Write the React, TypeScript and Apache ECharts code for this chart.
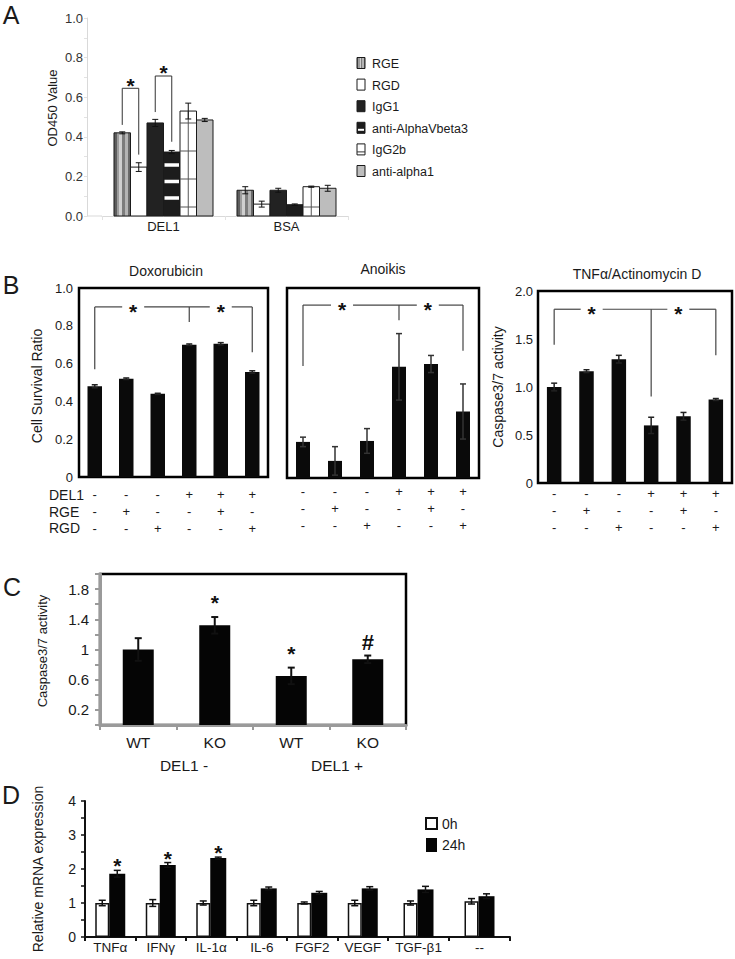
import React, { useEffect, useRef } from 'react';
import * as echarts from 'echarts';

const FONT = '"Liberation Sans", Arial, Helvetica, sans-serif';
const INK = '#1a1a1a';

// ---------- Panel A ----------
const aCategories = ['DEL1', 'BSA'];
const aGroups = ['RGE', 'RGD', 'IgG1', 'anti-AlphaVbeta3', 'IgG2b', 'anti-alpha1'];
const aDEL1 = [0.42, 0.247, 0.47, 0.323, 0.53, 0.485];
const aDEL1Err = [0.005, 0.022, 0.018, 0.008, 0.04, 0.008];
const aBSA = [0.13, 0.06, 0.13, 0.057, 0.148, 0.14];
const aBSAErr = [0.018, 0.015, 0.01, 0.004, 0.003, 0.015];

// ---------- Panel B ----------
const bTitles = ['Doxorubicin', 'Anoikis', 'TNFα/Actinomycin D'];
const bRowNames = ['DEL1', 'RGE', 'RGD'];
const bDEL1 = ['-', '-', '-', '+', '+', '+'];
const bRGE = ['-', '+', '-', '-', '+', '-'];
const bRGD = ['-', '-', '+', '-', '-', '+'];
const bConditions = bDEL1.map((d, i) => `${d}/${bRGE[i]}/${bRGD[i]}`);
const doxValues = [0.48, 0.52, 0.44, 0.70, 0.705, 0.556];
const doxErr = [0.008, 0.004, 0.003, 0.004, 0.006, 0.006];
const anoValues = [0.19, 0.09, 0.195, 0.585, 0.60, 0.35];
const anoErr = [0.025, 0.075, 0.065, 0.175, 0.045, 0.145];
const tnfValues = [1.0, 1.165, 1.29, 0.60, 0.695, 0.87];
const tnfErr = [0.04, 0.015, 0.04, 0.085, 0.04, 0.01];

// ---------- Panel C ----------
const cCategories = ['WT', 'KO', 'WT', 'KO'];
const cGroups = ['DEL1 -', 'DEL1 +'];
const cValues = [1.0, 1.32, 0.65, 0.87];
const cErr = [0.15, 0.11, 0.11, 0.05];
const cMarks = ['', '*', '*', '#'];

// ---------- Panel D ----------
const dCategories = ['TNFα', 'IFNγ', 'IL-1α', 'IL-6', 'FGF2', 'VEGF', 'TGF-β1', '--'];
const dSeriesNames = ['0h', '24h'];
const d0h = [1.0, 1.0, 1.0, 1.0, 1.0, 1.0, 1.0, 1.05];
const d0hErr = [0.08, 0.1, 0.06, 0.08, 0.03, 0.08, 0.06, 0.08];
const d24h = [1.86, 2.12, 2.32, 1.43, 1.3, 1.43, 1.4, 1.2];
const d24hErr = [0.1, 0.07, 0.03, 0.04, 0.04, 0.05, 0.09, 0.07];
const dMarks = ['*', '*', '*', '', '', '', '', ''];
const dSplit = 6;

// ---------- helpers ----------
const ln = (x1: number, y1: number, x2: number, y2: number, stroke: string, lineWidth: number) => ({
  type: 'line',
  shape: { x1, y1, x2, y2 },
  style: { stroke, lineWidth },
});
const starText = (x: number, yCenter: number, t = '*', size = 21, weight = 'bold') => ({
  type: 'text',
  x,
  y: t === '*' ? yCenter + 4.5 : yCenter,
  style: {
    text: t,
    fontSize: size,
    fontFamily: FONT,
    fontWeight: weight,
    fill: '#111',
    align: 'center',
    verticalAlign: 'middle',
  },
});

function stripeStops(colors: string[]) {
  const stops: any[] = [];
  const n = colors.length;
  colors.forEach((c, i) => {
    stops.push({ offset: i / n, color: c });
    stops.push({ offset: (i + 1) / n, color: c });
  });
  return stops;
}

const aFills: any[] = [
  { type: 'linear', x: 0, y: 0, x2: 1, y2: 0, colorStops: stripeStops(['#5e5e5e', '#9c9c9c', '#cfcfcf', '#7c7c7c', '#b4b4b4', '#6a6a6a']) },
  '#ffffff',
  '#222222',
  '#1c1c1c',
  '#ffffff',
  '#bdbdbd',
];

function renderA(si: number) {
  return (params: any, api: any) => {
    const cat = api.value(0);
    const v = api.value(1);
    const e = api.value(2);
    const band = api.size([1, 0])[0];
    const bw = (band * 0.805) / 6;
    const base = api.coord([cat, 0]);
    const yTop = api.coord([cat, v])[1];
    const x = base[0] + (si - 3) * bw;
    const h = base[1] - yTop;
    const ch: any[] = [
      { type: 'rect', shape: { x, y: yTop, width: bw, height: h }, style: { fill: aFills[si], stroke: '#1a1a1a', lineWidth: 1 } },
    ];
    if (si === 3) {
      for (let off = 18; off < h - 8; off += 16.5) {
        ch.push({ type: 'rect', shape: { x: x + 1, y: base[1] - off - 1.75, width: bw - 2, height: 3.5 }, style: { fill: '#ffffff' } });
      }
    }
    if (si === 4) {
      ch.push(ln(x + bw / 2, yTop, x + bw / 2, base[1], '#555', 1));
      for (let off = 9; off < h - 5; off += 28) ch.push(ln(x, base[1] - off, x + bw, base[1] - off, '#555', 1));
    }
    const cx = x + bw / 2;
    const yT = api.coord([cat, v + e])[1];
    const yB = api.coord([cat, v - e])[1];
    ch.push(ln(cx, yT, cx, yB, '#111', 1));
    ch.push(ln(cx - 3, yT, cx + 3, yT, '#111', 1));
    ch.push(ln(cx - 3, yB, cx + 3, yB, '#111', 1));
    return { type: 'group', children: ch };
  };
}

function renderAAnnot(params: any, api: any) {
  const band = api.size([1, 0])[0];
  const bw = (band * 0.805) / 6;
  const bx = (si: number) => api.coord([0, 0])[0] + (si - 2.5) * bw;
  const Y = (v: number) => api.coord([0, v])[1];
  const ch: any[] = [];
  const br = (s1: number, v1: number, s2: number, v2: number, top: number, starV: number) => {
    ch.push(ln(bx(s1), Y(v1), bx(s1), Y(top), '#333', 1));
    ch.push(ln(bx(s1), Y(top), bx(s2), Y(top), '#333', 1));
    ch.push(ln(bx(s2), Y(top), bx(s2), Y(v2), '#333', 1));
    ch.push(starText((bx(s1) + bx(s2)) / 2, Y(starV)));
  };
  br(0, 0.46, 1, 0.31, 0.645, 0.68);
  br(2, 0.525, 3, 0.375, 0.707, 0.75);
  return { type: 'group', children: ch };
}

function errRender(offset: number, color: string, cap: number, lw: number) {
  return (params: any, api: any) => {
    const cat = api.value(0);
    const v = api.value(1);
    const e = api.value(2);
    const x = api.coord([cat, v])[0] + offset;
    const yT = api.coord([cat, v + e])[1];
    const yB = api.coord([cat, v - e])[1];
    return {
      type: 'group',
      children: [
        ln(x, yT, x, yB, color, lw),
        ln(x - cap / 2, yT, x + cap / 2, yT, color, lw),
        ln(x - cap / 2, yB, x + cap / 2, yB, color, lw),
      ],
    };
  };
}

function bracketRender(lineV: number, legs: [number, number][], stars: number[], color: string) {
  return (params: any, api: any) => {
    const band = api.size([1, 0])[0];
    const cx = (f: number) => {
      const i = Math.floor(f);
      return api.coord([i, 0])[0] + (f - i) * band;
    };
    const Y = (v: number) => api.coord([0, v])[1];
    const yl = Y(lineV);
    const ch: any[] = [];
    legs.forEach(([f, b]) => ch.push(ln(cx(f), yl, cx(f), Y(b), color, 1.2)));
    let start = cx(legs[0][0]);
    const sx = stars.map(cx);
    sx.forEach((s) => {
      ch.push(ln(start, yl, s - 11, yl, color, 1.2));
      start = s + 11;
    });
    ch.push(ln(start, yl, cx(legs[legs.length - 1][0]), yl, color, 1.2));
    sx.forEach((s) => ch.push(starText(s, yl)));
    return { type: 'group', children: ch };
  };
}

function marksRender(marks: string[], gapStar: number, gapHash: number) {
  return (params: any, api: any) => {
    const m = marks[params.dataIndex];
    if (!m) return { type: 'group', children: [] };
    const p = api.coord([api.value(0), api.value(1)]);
    const x = p[0] + api.value(2);
    if (m === '#') return starText(x, p[1] - gapHash, '#', 22, 'bold');
    return starText(x, p[1] - gapStar);
  };
}

const gText = (text: string, x: number, y: number, size: number, extra: any = {}, rotation = 0) => ({
  type: 'text',
  x,
  y,
  rotation,
  silent: true,
  style: {
    text,
    fontSize: size,
    fontFamily: FONT,
    fill: INK,
    align: extra.align || 'center',
    verticalAlign: 'middle',
  },
});

function buildOption(): any {
  const labelBase = { fontFamily: FONT, color: INK };
  const frame = { show: true, borderColor: '#000', borderWidth: 2.5, backgroundColor: 'transparent' };

  const grid = [
    { left: 102, top: 18, width: 246, height: 198 },
    { left: 79, top: 288, width: 189, height: 189, ...frame },
    { left: 287, top: 288, width: 192, height: 190, ...frame },
    { left: 538, top: 291, width: 194, height: 192, ...frame },
    { left: 100, top: 574, width: 306, height: 151, ...frame },
    { left: 85, top: 801, width: 303, height: 136 },
    { left: 388, top: 801, width: 122, height: 136 },
  ];

  const bX = (gi: number, margin: number) => ({
    gridIndex: gi,
    type: 'category',
    data: bConditions,
    axisLine: { show: false },
    axisTick: { show: false },
    axisLabel: { ...labelBase, interval: 0, fontSize: 13, lineHeight: 17, margin, formatter: (v: string) => v.split('/').join('\n') },
  });

  const xAxis = [
    {
      gridIndex: 0,
      type: 'category',
      data: aCategories,
      axisLine: { lineStyle: { color: '#d9d9d9' } },
      axisTick: { show: true, length: 4, lineStyle: { color: '#e2e2e2' } },
      axisLabel: { ...labelBase, fontSize: 13, margin: 4 },
    },
    bX(1, 9),
    bX(2, 5),
    bX(3, 2),
    {
      gridIndex: 4,
      type: 'category',
      data: cCategories,
      axisLine: { show: true, lineStyle: { color: '#9a9a9a', width: 3 } },
      axisTick: { show: true, length: 5, lineStyle: { color: '#9a9a9a', width: 2 } },
      axisLabel: { ...labelBase, interval: 0, fontSize: 15.5, margin: 9 },
    },
    {
      gridIndex: 5,
      type: 'category',
      data: dCategories.slice(0, dSplit),
      axisLine: { show: true, lineStyle: { color: '#111', width: 2 } },
      axisTick: { show: true, length: 4, lineStyle: { color: '#111', width: 2 } },
      axisLabel: { ...labelBase, interval: 0, fontSize: 13.5, margin: 3 },
    },
    {
      gridIndex: 6,
      type: 'category',
      data: dCategories.slice(dSplit),
      axisLine: { show: true, lineStyle: { color: '#111', width: 2 } },
      axisTick: { show: true, length: 4, lineStyle: { color: '#111', width: 2 } },
      axisLabel: { ...labelBase, interval: 0, fontSize: 13.5, margin: 3 },
    },
  ];

  const yAxis = [
    {
      gridIndex: 0,
      type: 'value',
      min: 0,
      max: 1,
      interval: 0.1,
      offset: 15,
      splitLine: { show: false },
      axisLine: { show: true, lineStyle: { color: '#d9d9d9' } },
      axisTick: { show: true, length: 3, lineStyle: { color: '#e2e2e2' } },
      axisLabel: {
        ...labelBase,
        color: '#333',
        fontSize: 13,
        margin: 4,
        formatter: (v: number) => (Math.round(v * 10) % 2 === 0 ? v.toFixed(1) : ''),
      },
    },
    {
      gridIndex: 1,
      type: 'value',
      min: 0,
      max: 1,
      interval: 0.2,
      splitLine: { show: false },
      axisLine: { show: false },
      axisTick: { show: false },
      axisLabel: { ...labelBase, fontSize: 13, margin: 6, formatter: (v: number) => (v === 0 ? '0' : v.toFixed(1)) },
    },
    {
      gridIndex: 2,
      type: 'value',
      min: 0,
      max: 1,
      interval: 0.2,
      splitLine: { show: false },
      axisLine: { show: false },
      axisTick: { show: false },
      axisLabel: { show: false },
    },
    {
      gridIndex: 3,
      type: 'value',
      min: 0,
      max: 2,
      interval: 0.5,
      splitLine: { show: false },
      axisLine: { show: false },
      axisTick: { show: false },
      axisLabel: { ...labelBase, fontSize: 13, margin: 5, formatter: (v: number) => (v === 0 ? '0' : v.toFixed(1)) },
    },
    {
      gridIndex: 4,
      type: 'value',
      min: 0,
      max: 2,
      interval: 0.2,
      splitLine: { show: false },
      axisLine: { show: true, lineStyle: { color: '#9a9a9a', width: 3 } },
      axisTick: { show: true, length: 5, lineStyle: { color: '#9a9a9a', width: 2 } },
      axisLabel: {
        ...labelBase,
        fontSize: 15,
        margin: 11,
        formatter: (v: number) => {
          const r = Math.round(v * 10);
          if (r % 4 !== 2) return '';
          return r === 10 ? '1' : (r / 10).toFixed(1);
        },
      },
    },
    {
      gridIndex: 5,
      type: 'value',
      min: 0,
      max: 4,
      interval: 0.5,
      splitLine: { show: false },
      axisLine: { show: true, lineStyle: { color: '#111', width: 2 } },
      axisTick: { show: true, length: 4, lineStyle: { color: '#111', width: 1.5 } },
      axisLabel: { ...labelBase, fontSize: 14, margin: 9, formatter: (v: number) => (Number.isInteger(v) ? String(v) : '') },
    },
    { gridIndex: 6, type: 'value', min: 0, max: 4, interval: 0.5, show: false },
  ];

  const series: any[] = [];

  // Panel A
  aGroups.forEach((name, i) => {
    series.push({
      type: 'custom',
      name,
      xAxisIndex: 0,
      yAxisIndex: 0,
      encode: { x: 0, y: 1 },
      data: [
        [0, aDEL1[i], aDEL1Err[i]],
        [1, aBSA[i], aBSAErr[i]],
      ],
      renderItem: renderA(i),
      silent: true,
    });
  });
  series.push({ type: 'custom', xAxisIndex: 0, yAxisIndex: 0, encode: { x: 0, y: 1 }, data: [[0, 0]], renderItem: renderAAnnot, silent: true, z: 5 });

  // Panel B
  const bPanels = [
    { gi: 1, values: doxValues, err: doxErr, bw: 14.5, errColor: '#222', br: bracketRender(0.9, [[0, 0.57], [3, 0.82], [5, 0.66]], [1.22, 4.0], '#444') },
    { gi: 2, values: anoValues, err: anoErr, bw: 14, errColor: '#333', br: bracketRender(0.91, [[0, 0.59], [3, 0.83], [5, 0.67]], [1.22, 3.9], '#444') },
    { gi: 3, values: tnfValues, err: tnfErr, bw: 14.5, errColor: '#222', br: bracketRender(1.81, [[0, 1.44], [3, 0.9], [5, 1.33]], [1.16, 3.84], '#444') },
  ];
  bPanels.forEach((p) => {
    series.push({
      type: 'bar',
      xAxisIndex: p.gi,
      yAxisIndex: p.gi,
      data: p.values,
      barWidth: p.bw,
      itemStyle: { color: '#0a0a0a' },
      silent: true,
    });
    series.push({
      type: 'custom',
      xAxisIndex: p.gi,
      yAxisIndex: p.gi,
      encode: { x: 0, y: 1 },
      data: p.values.map((v, i) => [i, v, p.err[i]]),
      renderItem: errRender(0, p.errColor, 6, 1.5),
      z: 4,
      silent: true,
    });
    series.push({ type: 'custom', xAxisIndex: p.gi, yAxisIndex: p.gi, encode: { x: 0, y: 1 }, data: [[0, 0]], renderItem: p.br, z: 5, silent: true });
  });

  // Panel C
  series.push({ type: 'bar', xAxisIndex: 4, yAxisIndex: 4, data: cValues, barWidth: 31, itemStyle: { color: '#050505' }, silent: true });
  series.push({
    type: 'custom',
    xAxisIndex: 4,
    yAxisIndex: 4,
    encode: { x: 0, y: 1 },
    data: cValues.map((v, i) => [i, v, cErr[i]]),
    renderItem: errRender(0, '#111', 7, 2),
    z: 4,
    silent: true,
  });
  series.push({
    type: 'custom',
    xAxisIndex: 4,
    yAxisIndex: 4,
    encode: { x: 0, y: 1 },
    data: cValues.map((v, i) => [i, v + cErr[i], 0]),
    renderItem: marksRender(cMarks, 19, 13),
    z: 5,
    silent: true,
  });

  // Panel D
  const dParts = [
    { gi: 5, from: 0, to: dSplit },
    { gi: 6, from: dSplit, to: dCategories.length },
  ];
  dParts.forEach((p) => {
    const v0 = d0h.slice(p.from, p.to);
    const v1 = d24h.slice(p.from, p.to);
    series.push({
      type: 'bar',
      name: dSeriesNames[0],
      xAxisIndex: p.gi,
      yAxisIndex: p.gi,
      data: v0,
      barWidth: 14,
      barGap: '0%',
      itemStyle: { color: '#ffffff', borderColor: '#111', borderWidth: 1.5 },
      silent: true,
    });
    series.push({
      type: 'bar',
      name: dSeriesNames[1],
      xAxisIndex: p.gi,
      yAxisIndex: p.gi,
      data: v1,
      barWidth: 16,
      barGap: '0%',
      itemStyle: { color: '#050505' },
      silent: true,
    });
    series.push({
      type: 'custom',
      xAxisIndex: p.gi,
      yAxisIndex: p.gi,
      encode: { x: 0, y: 1 },
      data: v0.map((v, i) => [i, v, d0hErr[p.from + i]]),
      renderItem: errRender(-8, '#111', 7, 1.5),
      z: 4,
      silent: true,
    });
    series.push({
      type: 'custom',
      xAxisIndex: p.gi,
      yAxisIndex: p.gi,
      encode: { x: 0, y: 1 },
      data: v1.map((v, i) => [i, v, d24hErr[p.from + i]]),
      renderItem: errRender(7, '#111', 7, 1.5),
      z: 4,
      silent: true,
    });
    const marks = dMarks.slice(p.from, p.to);
    series.push({
      type: 'custom',
      xAxisIndex: p.gi,
      yAxisIndex: p.gi,
      encode: { x: 0, y: 1 },
      data: v1.map((v, i) => [i, v + d24hErr[p.from + i], 7]),
      renderItem: marksRender(marks, 9, 9),
      z: 5,
      silent: true,
    });
  });

  // Graphic texts / legends
  const graphic: any[] = [
    gText('A', 11, 15, 25),
    gText('B', 11, 285, 25),
    gText('C', 12, 587, 25),
    gText('D', 11, 795, 25),
    gText('OD450 Value', 52, 108, 13, {}, Math.PI / 2),
    gText(bTitles[0], 166, 271, 14),
    gText(bTitles[1], 383, 269, 14),
    gText(bTitles[2], 637, 274, 14),
    gText('Cell Survival Ratio', 37, 386, 14, {}, Math.PI / 2),
    gText('Caspase3/7 activity', 498, 387, 14, {}, Math.PI / 2),
    gText(bRowNames[0], 49, 495, 14, { align: 'left' }),
    gText(bRowNames[1], 49, 512, 14, { align: 'left' }),
    gText(bRowNames[2], 49, 528, 14, { align: 'left' }),
    gText('Caspase3/7 activity', 42, 651, 13, {}, Math.PI / 2),
    gText(cGroups[0], 184, 765, 15.5),
    gText(cGroups[1], 337, 765, 15.5),
    gText('Relative mRNA expression', 38, 869, 14, {}, Math.PI / 2),
    { type: 'line', silent: true, shape: { x1: 87, y1: 216, x2: 102, y2: 216 }, style: { stroke: '#d9d9d9', lineWidth: 1 } },
  ];

  // Legend A
  aGroups.forEach((name, i) => {
    const y = 63 + i * 21.6;
    const box: any = { type: 'rect', silent: true, shape: { x: 357, y: y - 5.5, width: 8, height: 11 }, style: { fill: aFills[i], stroke: '#1a1a1a', lineWidth: 1 } };
    graphic.push(box);
    if (i === 3) graphic.push({ type: 'rect', silent: true, shape: { x: 358, y: y + 1, width: 6, height: 2 }, style: { fill: '#fff' } });
    if (i === 4) graphic.push({ type: 'line', silent: true, shape: { x1: 357, y1: y + 2.5, x2: 365, y2: y + 2.5 }, style: { stroke: '#333', lineWidth: 1 } });
    graphic.push(gText(name, 372, y + 1, 12.5, { align: 'left' }));
  });

  // Legend D
  graphic.push({ type: 'rect', silent: true, shape: { x: 426, y: 818, width: 11, height: 11 }, style: { fill: '#fff', stroke: '#111', lineWidth: 2 } });
  graphic.push({ type: 'rect', silent: true, shape: { x: 426, y: 838, width: 11, height: 14 }, style: { fill: '#050505' } });
  graphic.push(gText(dSeriesNames[0], 442, 824, 14, { align: 'left' }));
  graphic.push(gText(dSeriesNames[1], 442, 845, 14, { align: 'left' }));

  return {
    animation: false,
    backgroundColor: '#ffffff',
    textStyle: { fontFamily: FONT },
    grid,
    xAxis,
    yAxis,
    series,
    graphic,
  };
}

export default function App() {
  const ref = useRef<HTMLDivElement>(null);
  useEffect(() => {
    const chart = echarts.init(ref.current as HTMLDivElement, null, { renderer: 'svg' });
    chart.setOption(buildOption());
    return () => chart.dispose();
  }, []);
  return (
    <div
      ref={ref}
      style={{ position: 'fixed', left: 0, top: 0, width: 735, height: 959, background: '#ffffff' }}
    />
  );
}
